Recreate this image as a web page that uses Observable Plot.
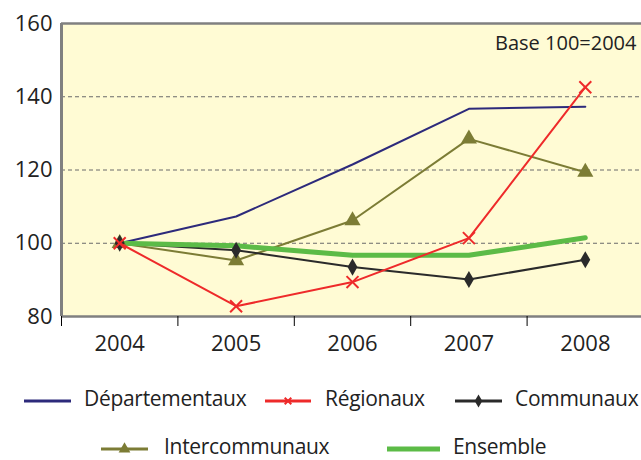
<!DOCTYPE html>
<html><head><meta charset="utf-8">
<script src="https://cdn.jsdelivr.net/npm/d3@7"></script>
<script src="https://cdn.jsdelivr.net/npm/@observablehq/plot@0.6"></script>
<style>
body{margin:0;background:#fff;}
#wrap{position:relative;width:641px;height:460px;overflow:hidden;font-family:"Open Sans",sans-serif;color:#222;}
#chart svg{display:block;}
.leg{position:absolute;font-size:21px;white-space:nowrap;line-height:1;color:#222;letter-spacing:-0.3px;}
.sw{position:absolute;}
</style></head><body><div id="wrap"><div id="chart"></div><div id="legend"></div></div>
<script>
const years = [2004, 2005, 2006, 2007, 2008];
const departementaux = [100, 107.3, 121.5, 136.7, 137.3];
const regionaux = [100, 82.8, 89.4, 101.4, 142.6];
const communaux = [100, 98.1, 93.5, 90.1, 95.5];
const intercommunaux = [100, 95.3, 106.2, 128.5, 119.4];
const ensemble = [100, 99.3, 96.7, 96.7, 101.5];
const yTicks = [80, 100, 120, 140, 160];
const gridTicks = [100, 120, 140];
const seriesNames = ["Départementaux", "Régionaux", "Communaux", "Intercommunaux", "Ensemble"];
const seriesColors = ["#2d2a7b", "#ee2a2a", "#2a2a2a", "#7c7c35", "#5cbb47"];
const noteText = "Base 100=2004";

const seriesValues = [departementaux, regionaux, communaux, intercommunaux, ensemble];
const rows = seriesNames.flatMap((s, i) => years.map((y, j) => ({series: s, year: y, value: seriesValues[i][j]})));
const of = s => rows.filter(d => d.series === s);
const col = s => seriesColors[seriesNames.indexOf(s)];

const chart = Plot.plot({
  width: 641, height: 360,
  marginLeft: 61, marginTop: 23, marginBottom: 44, marginRight: 0,
  style: {fontFamily: "'Open Sans', sans-serif", background: "transparent", color: "#222"},
  x: {domain: [2003.5, 2008.5], range: [61, 643], axis: null},
  y: {domain: [80, 160], range: [316, 23], axis: null},
  marks: [
    Plot.frame({fill: "#fffbd4", stroke: null}),
    Plot.ruleY(gridTicks, {stroke: "#6a6a6a", strokeDasharray: "4,3", strokeWidth: 1}),
    Plot.ruleX([2003.5], {stroke: "#808080", strokeWidth: 3}),
    Plot.ruleY([160], {stroke: "#808080", strokeWidth: 2.5}),
    Plot.ruleY([80], {stroke: "#808080", strokeWidth: 2.5}),
    Plot.line(of("Départementaux"), {x: "year", y: "value", stroke: col("Départementaux"), strokeWidth: 2}),
    Plot.line(of("Intercommunaux"), {x: "year", y: "value", stroke: col("Intercommunaux"), strokeWidth: 2}),
    Plot.line(of("Communaux"), {x: "year", y: "value", stroke: col("Communaux"), strokeWidth: 2}),
    Plot.line(of("Ensemble"), {x: "year", y: "value", stroke: col("Ensemble"), strokeWidth: 5}),
    Plot.dot(of("Intercommunaux"), {x: "year", y: "value", symbol: "triangle", fill: col("Intercommunaux"), r: 6}),
    Plot.dot(of("Communaux"), {x: "year", y: "value", symbol: "diamond", fill: col("Communaux"), r: 5.2}),
    Plot.line(of("Régionaux"), {x: "year", y: "value", stroke: col("Régionaux"), strokeWidth: 2}),
    Plot.dot(of("Régionaux"), {x: "year", y: "value", symbol: "times", stroke: col("Régionaux"), strokeWidth: 2, r: 5.5}),
    Plot.text([noteText], {text: d => d, frameAnchor: "top-right", dx: -5, dy: 12, fontSize: 20, textAnchor: "end", fill: "#222"}),
    Plot.axisY(yTicks, {tickSize: 0, tickPadding: 9, fontSize: 22, fill: "#222", label: null}),
    Plot.axisX(years.map(y => y - 0.5), {tickSize: 10, tickFormat: () => "", stroke: "#000", label: null}),
    Plot.axisX(years, {tickSize: 0, tickPadding: 19, fontSize: 22, tickFormat: d => String(d), fill: "#222", label: null})
  ]
});
document.getElementById("chart").appendChild(chart);

// legend (HTML, below the SVG)
const legendLayout = [
  {s: "Départementaux", x1: 24, x2: 71, tx: 84, y: 401, sym: null},
  {s: "Régionaux", x1: 265, x2: 311, tx: 325, y: 401, sym: "times"},
  {s: "Communaux", x1: 455, x2: 502, tx: 515, y: 401, sym: "diamond"},
  {s: "Intercommunaux", x1: 101, x2: 148, tx: 164, y: 449, sym: "triangle"},
  {s: "Ensemble", x1: 387, x2: 440, tx: 453, y: 449, sym: null, w: 5}
];
const leg = document.getElementById("legend");
for (const L of legendLayout) {
  const c = col(L.s);
  const svg = d3.create("svg").attr("class", "sw")
    .attr("width", L.x2 - L.x1 + 2).attr("height", 16)
    .style("left", (L.x1 - 1) + "px").style("top", (L.y - 8) + "px");
  svg.append("line").attr("x1", 1).attr("x2", L.x2 - L.x1 + 1).attr("y1", 8).attr("y2", 8)
    .attr("stroke", c).attr("stroke-width", L.w || 3);
  const cx = (L.x2 - L.x1) / 2 + 1;
  if (L.sym === "times") svg.append("path").attr("d", d3.symbol(d3.symbolTimes, 30)()).attr("transform", `translate(${cx},8)`).attr("stroke", c).attr("stroke-width", 2).attr("fill", "none");
  if (L.sym === "diamond") svg.append("path").attr("d", d3.symbol(d3.symbolDiamond, 50)()).attr("transform", `translate(${cx},8)`).attr("fill", c);
  if (L.sym === "triangle") svg.append("path").attr("d", d3.symbol(d3.symbolTriangle, 60)()).attr("transform", `translate(${cx},8)`).attr("fill", c);
  leg.appendChild(svg.node());
  const t = document.createElement("div");
  t.className = "leg";
  t.textContent = L.s;
  t.style.left = L.tx + "px";
  t.style.top = (L.y - 13) + "px";
  leg.appendChild(t);
}
</script>
</body></html>
